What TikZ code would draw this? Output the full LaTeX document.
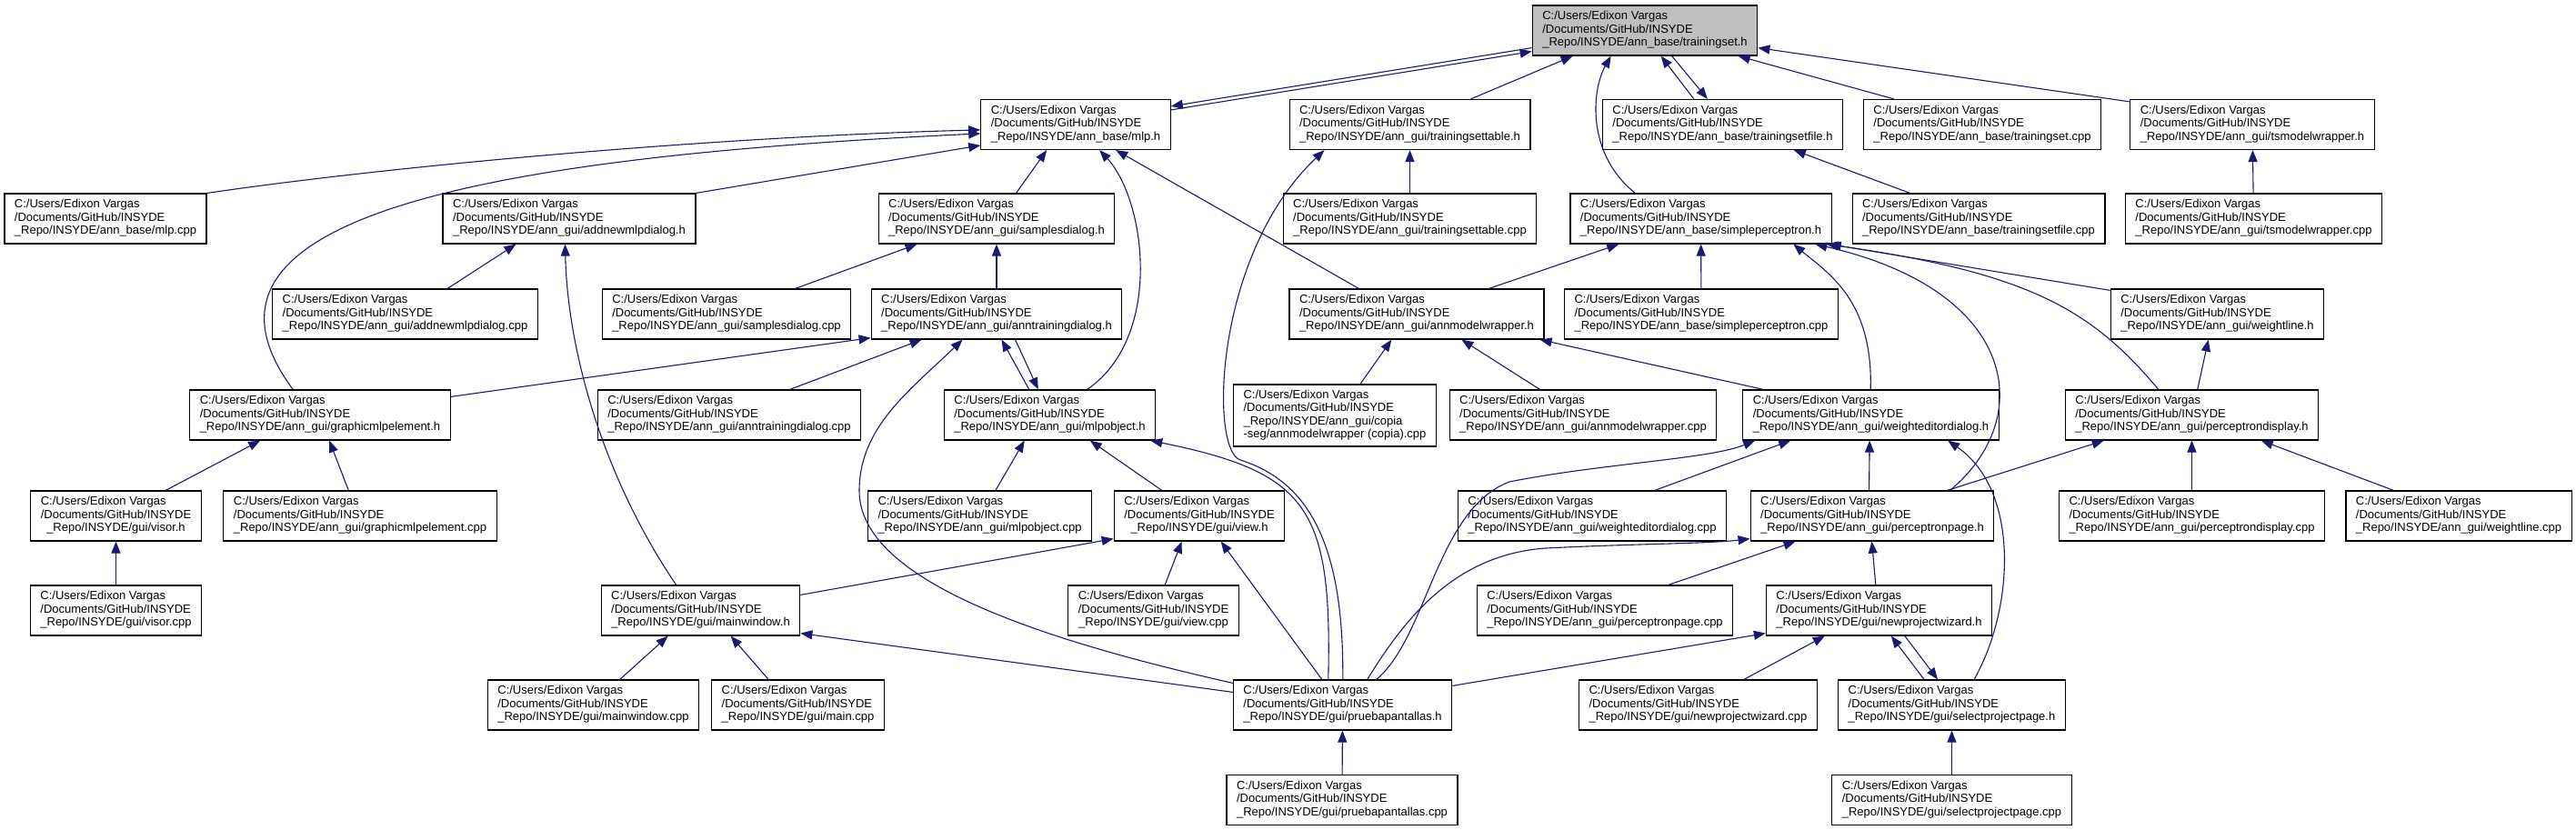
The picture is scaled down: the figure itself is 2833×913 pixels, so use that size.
\documentclass[tikz,border=0pt]{standalone}
\usepackage{fontspec}
\setmainfont{Liberation Sans}
\usetikzlibrary{arrows.meta}
\definecolor{edgeblue}{RGB}{25,25,112}
\tikzstyle{file}=[draw=black, line width=1.2pt, fill=white, inner xsep=11pt, inner ysep=4pt, minimum height=55pt, font=\fontsize{13}{14.5}\selectfont]
\tikzstyle{root}=[file, fill=black!25]
\tikzstyle{dep}=[draw=edgeblue, line width=1.1pt, -{Triangle[length=13pt,width=10pt]}]
\newcommand{\incfile}[1]{\begin{tabular}{@{}l@{}}C:/Users/Edixon Vargas\\/Documents/GitHub/INSYDE\\\multicolumn{1}{@{}c@{}}{\_Repo/INSYDE/#1}\end{tabular}}

\begin{document}
\begin{tikzpicture}[x=1pt, y=-1pt]
  \useasboundingbox (0,0) rectangle (2833,913);

  % Root
  \node[root] (tsh) at (1809,33.5) {\incfile{ann\_base/trainingset.h}};

  % Row 1
  \node[file] (mlph) at (1183,137) {\incfile{ann\_base/mlp.h}};
  \node[file] (tstableh) at (1550.5,137) {\incfile{ann\_gui/trainingsettable.h}};
  \node[file] (tsfileh) at (1894.5,137) {\incfile{ann\_base/trainingsetfile.h}};
  \node[file] (tscpp) at (2180,137) {\incfile{ann\_base/trainingset.cpp}};
  \node[file] (tsmwh) at (2477,137) {\incfile{ann\_gui/tsmodelwrapper.h}};

  % Row 2
  \node[file] (mlpcpp) at (116,240.5) {\incfile{ann\_base/mlp.cpp}};
  \node[file] (addmlph) at (626,240.5) {\incfile{ann\_gui/addnewmlpdialog.h}};
  \node[file] (samplesh) at (1096,240.5) {\incfile{ann\_gui/samplesdialog.h}};
  \node[file] (tstablecpp) at (1550.5,240.5) {\incfile{ann\_gui/trainingsettable.cpp}};
  \node[file] (sperch) at (1870.5,240.5) {\incfile{ann\_base/simpleperceptron.h}};
  \node[file] (tsfilecpp) at (2176,240.5) {\incfile{ann\_base/trainingsetfile.cpp}};
  \node[file] (tsmwcpp) at (2478.5,240.5) {\incfile{ann\_gui/tsmodelwrapper.cpp}};

  % Row 3
  \node[file] (addmlpcpp) at (445.5,345.5) {\incfile{ann\_gui/addnewmlpdialog.cpp}};
  \node[file] (samplescpp) at (799,345.5) {\incfile{ann\_gui/samplesdialog.cpp}};
  \node[file] (anntrainh) at (1096,345.5) {\incfile{ann\_gui/anntrainingdialog.h}};
  \node[file] (annmwh) at (1558,345.5) {\incfile{ann\_gui/annmodelwrapper.h}};
  \node[file] (sperccpp) at (1871,345.5) {\incfile{ann\_base/simpleperceptron.cpp}};
  \node[file] (wlineh) at (2438.5,345.5) {\incfile{ann\_gui/weightline.h}};

  % Row 4
  \node[file] (gmlph) at (352,456.5) {\incfile{ann\_gui/graphicmlpelement.h}};
  \node[file] (anntraincpp) at (802,456.5) {\incfile{ann\_gui/anntrainingdialog.cpp}};
  \node[file] (mlpobjh) at (1154.5,456.5) {\incfile{ann\_gui/mlpobject.h}};
  \node[file, inner ysep=5pt] (annmwcopia) at (1468,457) {\begin{tabular}{@{}l@{}}C:/Users/Edixon Vargas\\/Documents/GitHub/INSYDE\\\_Repo/INSYDE/ann\_gui/copia\\\multicolumn{1}{@{}c@{}}{-seg/annmodelwrapper (copia).cpp}\end{tabular}};
  \node[file] (annmwcpp) at (1741,456.5) {\incfile{ann\_gui/annmodelwrapper.cpp}};
  \node[file] (weditorh) at (2057.5,456.5) {\incfile{ann\_gui/weighteditordialog.h}};
  \node[file] (pdisplayh) at (2410.5,456.5) {\incfile{ann\_gui/perceptrondisplay.h}};

  % Row 5
  \node[file] (visorh) at (127.5,567.5) {\incfile{gui/visor.h}};
  \node[file] (gmlpcpp) at (396,567.5) {\incfile{ann\_gui/graphicmlpelement.cpp}};
  \node[file] (mlpobjcpp) at (1077.5,567.5) {\incfile{ann\_gui/mlpobject.cpp}};
  \node[file] (viewh) at (1319,567.5) {\incfile{gui/view.h}};
  \node[file] (weditorcpp) at (1751,567.5) {\incfile{ann\_gui/weighteditordialog.cpp}};
  \node[file] (ppageh) at (2059,567.5) {\incfile{ann\_gui/perceptronpage.h}};
  \node[file] (pdisplaycpp) at (2410.5,567.5) {\incfile{ann\_gui/perceptrondisplay.cpp}};
  \node[file] (wlinecpp) at (2704,567.5) {\incfile{ann\_gui/weightline.cpp}};

  % Row 6
  \node[file] (visorcpp) at (127.5,671.5) {\incfile{gui/visor.cpp}};
  \node[file] (mainwinh) at (770.5,671.5) {\incfile{gui/mainwindow.h}};
  \node[file] (viewcpp) at (1268.5,671.5) {\incfile{gui/view.cpp}};
  \node[file] (ppagecpp) at (1765,671.5) {\incfile{ann\_gui/perceptronpage.cpp}};
  \node[file] (npwizh) at (2066.5,671.5) {\incfile{gui/newprojectwizard.h}};

  % Row 7
  \node[file] (mainwincpp) at (652.5,775.5) {\incfile{gui/mainwindow.cpp}};
  \node[file] (maincpp) at (877.5,775.5) {\incfile{gui/main.cpp}};
  \node[file] (pruebah) at (1476.5,775.5) {\incfile{gui/pruebapantallas.h}};
  \node[file] (npwizcpp) at (1867.5,775.5) {\incfile{gui/newprojectwizard.cpp}};
  \node[file] (selpageh) at (2146.5,775.5) {\incfile{gui/selectprojectpage.h}};

  % Row 8
  \node[file] (pruebacpp) at (1476,880) {\incfile{gui/pruebapantallas.cpp}};
  \node[file] (selpagecpp) at (2146.5,880) {\incfile{gui/selectprojectpage.cpp}};

  % trainingset.h
  \draw[dep] ([yshift=-12]mlph.north east) -- ([yshift=5]tsh.south west);
  \draw[dep] ([yshift=9]tsh.south west) -- ([yshift=-8]mlph.north east);
  \draw[dep] ([xshift=200]tstableh.north west) -- ([xshift=45]tsh.south west);
  \draw[dep] ([xshift=101]tsfileh.north west) -- ([xshift=142]tsh.south west);
  \draw[dep] ([xshift=154]tsh.south west) -- ([xshift=116]tsfileh.north west);
  \draw[dep] ([xshift=34]tscpp.north west) -- ([xshift=227]tsh.south west);
  \draw[dep] ([yshift=-3]tsmwh.north west) -- ([yshift=9]tsh.south east);
  \draw[dep] ([xshift=72]sperch.north west) .. controls (1745,170) and (1750,100) .. ([xshift=87]tsh.south west);

  % mlp.h
  \draw[dep] (mlpcpp.north east) .. controls (450,180) and (800,150) .. ([yshift=-34]mlph.north west);
  \draw[dep] ([xshift=114]gmlph.north west) .. controls (190,250) and (480,175) .. ([yshift=-38]mlph.north west);
  \draw[dep] (addmlph.north east) -- ([yshift=-51]mlph.north west);
  \draw[dep] ([xshift=152]samplesh.north west) -- ([xshift=73]mlph.south west);
  \draw[dep] ([xshift=158]mlpobjh.north west) .. controls (1280,370) and (1260,220) .. ([xshift=131]mlph.south west);
  \draw[dep] ([xshift=77]annmwh.north west) -- ([xshift=149]mlph.south west);

  % trainingsettable.h, trainingsetfile.h, tsmodelwrapper.h
  \draw[dep] (tstablecpp) -- (tstableh);
  \draw[dep] ([xshift=121]pruebah.north west) .. controls (1478,600) and (1440,530) .. (1364,506) .. controls (1330,495) and (1335,280) .. ([xshift=39]tstableh.south west);
  \draw[dep] ([xshift=64]tsfilecpp.north west) -- ([xshift=211]tsfileh.south west);
  \draw[dep] (tsmwcpp) -- (tsmwh);

  % addnewmlpdialog.h, samplesdialog.h
  \draw[dep] ([xshift=193]addmlpcpp.north west) -- ([xshift=81]addmlph.south west);
  \draw[dep] ([xshift=83]mainwinh.north west) .. controls (660,520) and (624,380) .. ([xshift=135]addmlph.south west);
  \draw[dep] ([xshift=213]samplescpp.north west) -- ([xshift=43]samplesh.south west);
  \draw[dep] (anntrainh) -- (samplesh);

  % simpleperceptron.h
  \draw[dep] ([xshift=220]annmwh.north west) -- ([xshift=54]sperch.south west);
  \draw[dep] (sperccpp) -- (sperch);
  \draw[dep] ([yshift=-2]wlineh.north west) -- ([xshift=-3]sperch.south east);
  \draw[dep] ([xshift=103]pdisplayh.north west) .. controls (2300,340) and (2230,300) .. ([xshift=-6]sperch.south east);
  \draw[dep] ([xshift=141]weditorh.north west) .. controls (2060,330) and (2010,300) .. ([xshift=246]sperch.south west);
  \draw[dep] ([xshift=220]ppageh.north west) .. controls (2240,460) and (2220,320) .. ([xshift=270]sperch.south west);

  % anntrainingdialog.h
  \draw[dep] ([yshift=-8]gmlph.north east) -- ([yshift=2]anntrainh.south west);
  \draw[dep] ([xshift=212]anntraincpp.north west) -- ([xshift=56]anntrainh.south west);
  \draw[dep] ([xshift=94]mlpobjh.north west) -- ([xshift=144]anntrainh.south west);
  \draw[dep] ([xshift=159]anntrainh.south west) -- ([xshift=104]mlpobjh.north west);
  \draw[dep] ([yshift=-4]pruebah.north west) .. controls (1150,705) and (945,640) .. (945,540) .. controls (945,470) and (1000,430) .. ([xshift=101]anntrainh.south west);

  % annmodelwrapper.h, weightline.h
  \draw[dep] ([xshift=140]annmwcopia.north west) -- ([xshift=113]annmwh.south west);
  \draw[dep] ([xshift=100]annmwcpp.north west) -- ([xshift=190]annmwh.south west);
  \draw[dep] ([xshift=23]weditorh.north west) -- ([xshift=-5]annmwh.south east);
  \draw[dep] ([xshift=146]pdisplayh.north west) -- ([xshift=108]wlineh.south west);

  % graphicmlpelement.h, visor.h
  \draw[dep] ([xshift=149]visorh.north west) -- ([xshift=78]gmlph.south west);
  \draw[dep] ([xshift=138]gmlpcpp.north west) -- ([xshift=154]gmlph.south west);
  \draw[dep] (visorcpp) -- (visorh);

  % mlpobject.h
  \draw[dep] ([xshift=141]mlpobjcpp.north west) -- ([xshift=89]mlpobjh.south west);
  \draw[dep] ([xshift=53]viewh.north west) -- ([xshift=161]mlpobjh.south west);
  \draw[dep] ([xshift=105]pruebah.north west) .. controls (1465,560) and (1440,520) .. ([xshift=-6]mlpobjh.south east);

  % weighteditordialog.h
  \draw[dep] ([xshift=217]weditorcpp.north west) -- ([xshift=53]weditorh.south west);
  \draw[dep] ([xshift=131]ppageh.north west) -- ([xshift=140]weditorh.south west);
  \draw[dep] ([xshift=158]pruebah.north west) .. controls (1570,700) and (1580,560) .. (1660,530) .. controls (1760,510) and (1880,505) .. ([xshift=14]weditorh.south west);
  \draw[dep] ([xshift=150]selpageh.north west) .. controls (2215,670) and (2222,540) .. ([xshift=226]weditorh.south west);

  % perceptronpage.h, perceptrondisplay.h
  \draw[dep] ([xshift=211]ppagecpp.north west) -- ([xshift=50]ppageh.south west);
  \draw[dep] ([xshift=121]npwizh.north west) -- ([xshift=134]ppageh.south west);
  \draw[dep] ([xshift=148]pruebah.north west) .. controls (1545,680) and (1600,610) .. (1700,603) .. controls (1800,598) and (1880,598) .. ([yshift=3]ppageh.south west);
  \draw[dep] ([xshift=217]ppageh.north west) -- ([xshift=43]pdisplayh.south west);
  \draw[dep] (pdisplaycpp) -- (pdisplayh);
  \draw[dep] ([xshift=53]wlinecpp.north west) -- ([xshift=216]pdisplayh.south west);

  % view.h, mainwindow.h
  \draw[dep] ([xshift=107]viewcpp.north west) -- ([xshift=75]viewh.south west);
  \draw[dep] ([yshift=-11]mainwinh.north east) -- ([yshift=3]viewh.south west);
  \draw[dep] ([xshift=98]pruebah.north west) -- ([xshift=118]viewh.south west);
  \draw[dep] ([xshift=146]mainwincpp.north west) -- ([xshift=74]mainwinh.south west);
  \draw[dep] ([xshift=63]maincpp.north west) -- ([xshift=143]mainwinh.south west);
  \draw[dep] ([yshift=-14]pruebah.north west) -- ([yshift=3]mainwinh.south east);

  % newprojectwizard.h, selectprojectpage.h, pruebapantallas.h
  \draw[dep] ([xshift=182]npwizcpp.north west) -- ([xshift=65]npwizh.south west);
  \draw[dep] ([xshift=95]selpageh.north west) -- ([xshift=138]npwizh.south west);
  \draw[dep] ([xshift=153]npwizh.south west) -- ([xshift=110]selpageh.north west);
  \draw[dep] ([yshift=-7]pruebah.north east) -- ([yshift=3]npwizh.south west);
  \draw[dep] (pruebacpp) -- (pruebah);
  \draw[dep] (selpagecpp) -- (selpageh);
\end{tikzpicture}
\end{document}
